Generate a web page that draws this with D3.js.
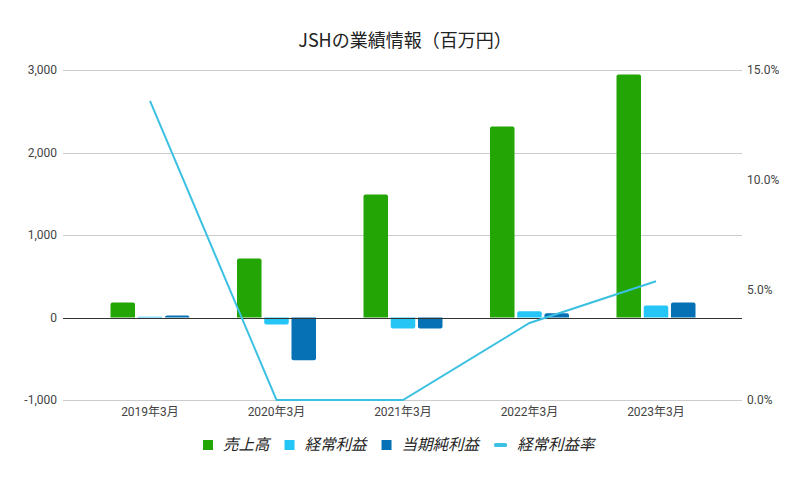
<!DOCTYPE html>
<head>
  <meta charset="utf-8">
  <script src="https://d3js.org/d3.v7.min.js"></script>
  <style>
    body { margin:0; background:#fff; }
    text { font-family: Roboto, 'Noto Sans CJK JP', sans-serif; fill: #222; }
    .grid-line { stroke: #cccccc; stroke-width: 1; }
    .zero-line { stroke: #333; stroke-width: 1; }
    .tick-label { font-size: 12px; fill: #444; }
    .title { font-size: 18px; font-family: 'Noto Sans CJK JP', sans-serif; fill: #222; }
    .legend-text { font-size: 15.5px; font-style: italic; font-family: 'Noto Sans CJK JP', sans-serif; fill: #222; }
  </style>
</head>

<body>
  <script>
    // data
    var categories = ["2019年3月", "2020年3月", "2021年3月", "2022年3月", "2023年3月"];
    var sales = [182, 715, 1491, 2315, 2945];          // 売上高
    var ordinaryProfit = [10, -85, -133, 76, 145];      // 経常利益
    var netProfit = [25, -518, -133, 52, 182];          // 当期純利益
    var profitRate = [13.6, 0, 0, 3.5, 5.4];            // 経常利益率 (%)
    var leftTicks = [-1000, 0, 1000, 2000, 3000];
    var rightTicks = [0, 5, 10, 15];

    var barSeries = [
      {name: "売上高", values: sales, color: "#22a505"},
      {name: "経常利益", values: ordinaryProfit, color: "#25c5f5"},
      {name: "当期純利益", values: netProfit, color: "#0672b5"}
    ];
    var lineSeries = {name: "経常利益率", values: profitRate, color: "#3bc0e2"};

    var W = 806, H = 479;
    var plot = {left: 63, right: 742, top: 70, bottom: 400};

    var svg = d3.select("body").append("svg")
      .attr("width", W)
      .attr("height", H);

    var x0 = d3.scaleBand()
      .domain(categories)
      .range([86.75, 719.25]);

    var x1 = d3.scaleBand()
      .domain(barSeries.map(d => d.name))
      .range([-39.5, 39.5])
      .paddingInner(0.1);

    var y = d3.scaleLinear()
      .domain([-1000, 3000])
      .range([plot.bottom, plot.top]);

    var y2 = d3.scaleLinear()
      .domain([0, 15])
      .range([plot.bottom, plot.top]);

    // title
    svg.append("text")
      .attr("class", "title")
      .attr("x", 405)
      .attr("y", 47)
      .attr("text-anchor", "middle")
      .text("JSHの業績情報（百万円）");

    // gridlines
    svg.append("g").selectAll("line")
      .data(leftTicks.filter(d => d != 0))
      .enter().append("line")
        .attr("class", "grid-line")
        .attr("x1", plot.left)
        .attr("x2", plot.right)
        .attr("y1", d => Math.round(y(d)) + 0.5)
        .attr("y2", d => Math.round(y(d)) + 0.5);

    // left labels
    svg.append("g").selectAll("text")
      .data(leftTicks)
      .enter().append("text")
        .attr("class", "tick-label")
        .attr("x", 57)
        .attr("y", d => y(d))
        .attr("dy", "0.35em")
        .attr("text-anchor", "end")
        .text(d => d3.format(",")(d).replace("−", "-"));

    // right labels
    svg.append("g").selectAll("text")
      .data(rightTicks)
      .enter().append("text")
        .attr("class", "tick-label")
        .attr("x", 747)
        .attr("y", d => y2(d))
        .attr("dy", "0.35em")
        .text(d => d3.format(".1f")(d) + "%");

    // category labels
    svg.append("g").selectAll("text")
      .data(categories)
      .enter().append("text")
        .attr("class", "tick-label")
        .attr("x", d => x0(d) + x0.bandwidth() / 2)
        .attr("y", 412)
        .attr("dy", "0.35em")
        .attr("text-anchor", "middle")
        .text(d => d);

    // bars with rounded outer corners
    function barPath(x, w, v) {
      var r = 2;
      var y0 = y(0), yv = y(v);
      var h = Math.abs(yv - y0);
      if (h < 0.5) return "";
      r = Math.min(r, h, w / 2);
      if (v >= 0) {
        return "M" + x + "," + y0 + "V" + (yv + r) + "Q" + x + "," + yv + " " + (x + r) + "," + yv +
          "H" + (x + w - r) + "Q" + (x + w) + "," + yv + " " + (x + w) + "," + (yv + r) + "V" + y0 + "Z";
      }
      return "M" + x + "," + y0 + "V" + (yv - r) + "Q" + x + "," + yv + " " + (x + r) + "," + yv +
        "H" + (x + w - r) + "Q" + (x + w) + "," + yv + " " + (x + w) + "," + (yv - r) + "V" + y0 + "Z";
    }

    var groups = svg.append("g").selectAll("g")
      .data(barSeries)
      .enter().append("g")
        .attr("fill", d => d.color);

    groups.selectAll("path")
      .data(s => s.values.map((v, i) => ({s: s, v: v, cat: categories[i]})))
      .enter().append("path")
        .attr("d", d => barPath(x0(d.cat) + x0.bandwidth() / 2 + x1(d.s.name), x1.bandwidth(), d.v));

    // zero line
    svg.append("line")
      .attr("class", "zero-line")
      .attr("x1", plot.left)
      .attr("x2", plot.right)
      .attr("y1", Math.round(y(0)) + 0.5)
      .attr("y2", Math.round(y(0)) + 0.5);

    // rate line
    var line = d3.line()
      .x((d, i) => x0(categories[i]) + x0.bandwidth() / 2)
      .y(d => y2(d));

    svg.append("path")
      .datum(lineSeries.values)
      .attr("fill", "none")
      .attr("stroke", lineSeries.color)
      .attr("stroke-width", 2)
      .attr("d", line);

    // legend
    var legendItems = barSeries.map(d => ({name: d.name, color: d.color, type: "box"}))
      .concat([{name: lineSeries.name, color: lineSeries.color, type: "line"}]);

    var legend = svg.append("g").attr("transform", "translate(0,445)");
    var lx = 203;
    legendItems.forEach(function(item) {
      if (item.type == "box") {
        legend.append("rect")
          .attr("x", lx).attr("y", -5)
          .attr("width", 10).attr("height", 10)
          .attr("fill", item.color);
        lx += 10;
      } else {
        legend.append("rect")
          .attr("x", lx).attr("y", -2)
          .attr("width", 13).attr("height", 4)
          .attr("rx", 1.5)
          .attr("fill", item.color);
        lx += 13;
      }
      var t = legend.append("text")
        .attr("class", "legend-text")
        .attr("x", lx + 10)
        .attr("y", 0)
        .attr("dy", "0.35em")
        .text(item.name);
      lx += 10 + t.node().getComputedTextLength() + 15;
    });
  </script>
</body>
